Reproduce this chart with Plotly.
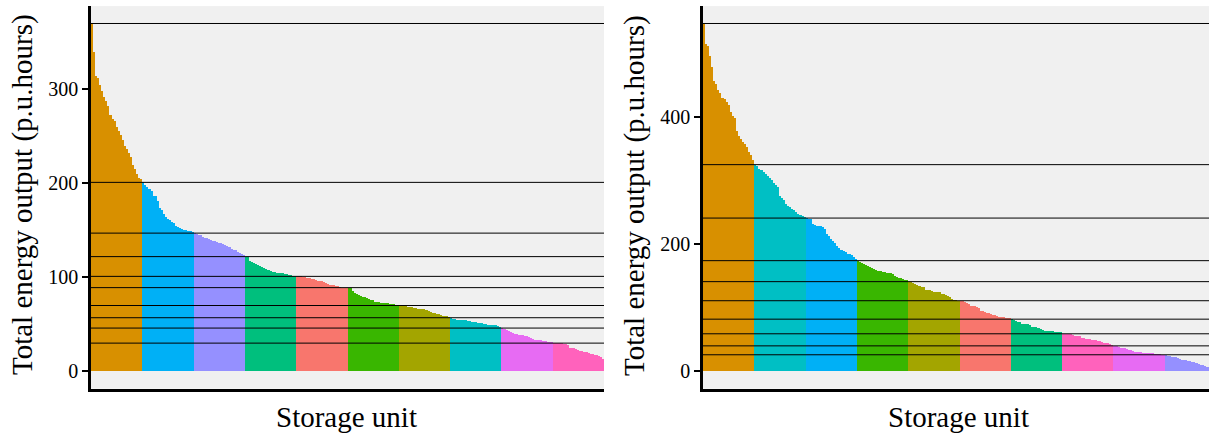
import plotly.graph_objects as go

# Total energy output (p.u.hours) of each storage unit, sorted high to low,
# split into the ten unit groups of each scenario.
left_g01 = [370, 340, 314, 312, 304, 298, 292, 287, 282, 273, 268, 266, 260,
            256, 251, 246, 240, 236, 232, 228, 219, 215, 210, 206, 204]
left_g02 = [201, 198, 196, 194, 192, 186, 186, 181, 174, 171, 167, 164, 162,
            161, 159, 158, 155, 153, 152, 151, 150, 150, 149, 149, 148]
left_g03 = [147, 146, 145, 145, 143, 142, 142, 141, 140, 139, 139, 137, 136,
            136, 135, 134, 133, 132, 130, 129, 129, 127, 126, 125, 124]
left_g04 = [122, 121, 117, 116, 115, 114, 113, 112, 111, 110, 109, 108, 107,
            106, 106, 105, 105, 104, 104, 103, 103, 102, 102, 101, 101]
left_g05 = [101, 101, 101, 100, 100, 99, 99, 98, 98, 97, 96, 96, 96,
            95, 94, 93, 92, 92, 92, 91, 91, 90, 89, 89, 89]
left_g06 = [89, 89, 85, 83, 82, 81, 80, 79, 79, 78, 77, 76, 76,
            74, 74, 74, 73, 73, 73, 73, 72, 71, 71, 70, 70]
left_g07 = [70, 69, 69, 69, 68, 68, 68, 67, 67, 66, 66, 66, 66,
            65, 64, 63, 62, 62, 61, 61, 60, 59, 59, 59, 58]
left_g08 = [57, 56, 56, 55, 55, 55, 54, 54, 53, 53, 52, 52, 52,
            51, 51, 51, 50, 50, 49, 49, 49, 49, 49, 48, 47]
left_g09 = [46, 45, 44, 43, 42, 41, 40, 40, 39, 38, 38, 37, 37,
            36, 35, 34, 33, 33, 33, 33, 32, 32, 31, 31, 31]
left_g10 = [30, 30, 30, 30, 30, 29, 29, 28, 25, 25, 25, 24, 23,
            22, 21, 20, 20, 19, 18, 18, 17, 17, 16, 15, 13]

right_g01 = [547, 514, 511, 496, 479, 456, 452, 443, 438, 430, 428, 424, 419,
             408, 402, 399, 377, 370, 365, 361, 357, 353, 345, 340, 332]
right_g02 = [325, 322, 318, 316, 313, 310, 307, 304, 300, 296, 293, 290, 275,
             272, 270, 263, 260, 258, 255, 253, 250, 248, 245, 244, 242]
right_g03 = [241, 240, 239, 231, 230, 229, 229, 229, 227, 223, 216, 212, 208,
             204, 201, 197, 194, 191, 189, 187, 185, 184, 182, 179, 176]
right_g04 = [174, 172, 170, 169, 167, 166, 164, 163, 161, 159, 158, 157, 156,
             156, 155, 155, 154, 153, 150, 148, 147, 146, 145, 144, 143]
right_g05 = [141, 140, 139, 137, 136, 134, 133, 132, 128, 128, 127, 126, 125,
             125, 125, 125, 122, 122, 120, 118, 116, 114, 112, 112, 111]
right_g06 = [111, 110, 109, 107, 106, 103, 103, 102, 101, 99, 95, 94, 93,
             92, 91, 90, 89, 88, 87, 86, 86, 85, 84, 84, 83]
right_g07 = [82, 81, 79, 78, 77, 75, 75, 75, 74, 72, 70, 70, 69,
             68, 66, 65, 64, 64, 63, 63, 63, 62, 62, 62, 61]
right_g08 = [59, 59, 59, 59, 58, 57, 56, 56, 56, 53, 53, 51, 51,
             51, 49, 49, 49, 47, 47, 46, 45, 45, 44, 43, 42]
right_g09 = [40, 39, 38, 37, 36, 36, 35, 34, 33, 32, 31, 31, 31,
             30, 29, 29, 29, 28, 28, 28, 27, 27, 27, 26, 26]
right_g10 = [26, 24, 24, 23, 22, 22, 21, 19, 18, 17, 17, 16, 16,
             15, 14, 13, 12, 10, 9, 8, 7, 6, 5, 4, 3]

left_colors = ["#D89000", "#00B0F6", "#9590FF", "#00BF7D", "#F8766D",
               "#39B600", "#A3A500", "#00BFC4", "#E76BF3", "#FF62BC"]
right_colors = ["#D89000", "#00BFC4", "#00B0F6", "#39B600", "#A3A500",
                "#F8766D", "#00BF7D", "#FF62BC", "#E76BF3", "#9590FF"]

left_ticks = [0, 100, 200, 300]
right_ticks = [0, 200, 400]
x_title = "Storage unit"
y_title = "Total energy output (p.u.hours)"

left_groups = [left_g01, left_g02, left_g03, left_g04, left_g05,
               left_g06, left_g07, left_g08, left_g09, left_g10]
right_groups = [right_g01, right_g02, right_g03, right_g04, right_g05,
                right_g06, right_g07, right_g08, right_g09, right_g10]

W, H = 1209, 434
SERIF = "Liberation Serif"

fig = go.Figure()


def add_panel(groups, colors, xa, ya):
    pos = 1
    for vals, col in zip(groups, colors):
        xs = list(range(pos, pos + len(vals)))
        fig.add_trace(go.Bar(
            x=xs, y=vals, width=1.0,
            marker=dict(color=col, line=dict(width=0)),
            xaxis=xa, yaxis=ya, showlegend=False, hoverinfo="y",
        ))
        pos += len(vals)
    # reference line at the top value of every group
    for vals in groups:
        top = max(vals)
        fig.add_shape(type="line", xref=f"{xa} domain", x0=0, x1=1,
                      yref=ya, y0=top, y1=top,
                      line=dict(color="black", width=1), layer="above")
    return pos - 1


n_left = add_panel(left_groups, left_colors, "x", "y")
n_right = add_panel(right_groups, right_colors, "x2", "y2")

left_max = max(max(g) for g in left_groups)
right_max = max(max(g) for g in right_groups)

ydom = [1 - 388.7 / H, 1 - 6.1 / H]
axis_line = dict(showline=True, linecolor="black", linewidth=2.5,
                 showgrid=False, zeroline=False)
yaxis_common = dict(ticks="outside", ticklen=6, tickwidth=2, tickcolor="black",
                    tickfont=dict(family=SERIF, size=20, color="black"),
                    domain=ydom, **axis_line)
xaxis_common = dict(showticklabels=False, ticks="", **axis_line)

# right panel runs past the page edge, so only part of its last group shows
right_visible = (W - 703) / 513.0

fig.update_layout(
    width=W, height=H,
    margin=dict(l=0, r=0, t=0, b=0),
    paper_bgcolor="white",
    plot_bgcolor="#F0F0F0",
    bargap=0, barmode="overlay",
    xaxis=dict(domain=[91 / W, 604 / W], range=[0.5, n_left + 0.5],
               anchor="y", **xaxis_common),
    xaxis2=dict(domain=[703 / W, 1.0],
                range=[0.5, 0.5 + n_right * right_visible],
                anchor="y2", **xaxis_common),
    yaxis=dict(range=[-0.05 * left_max, 1.05 * left_max], tickvals=left_ticks,
               anchor="x", **yaxis_common),
    yaxis2=dict(range=[-0.05 * right_max, 1.05 * right_max],
                tickvals=right_ticks, anchor="x2", **yaxis_common),
)

title_font = dict(family=SERIF, size=29, color="black")
for xc in (346, 958):
    fig.add_annotation(text=x_title, xref="paper", yref="paper",
                       x=xc / W, y=1 - 417 / H, showarrow=False,
                       xanchor="center", yanchor="middle", font=title_font)
for xc in (22, 634):
    fig.add_annotation(text=y_title, xref="paper", yref="paper",
                       x=xc / W, y=1 - 195 / H, showarrow=False,
                       textangle=-90, xanchor="center", yanchor="middle",
                       font=title_font)

fig.write_html("out.html")
